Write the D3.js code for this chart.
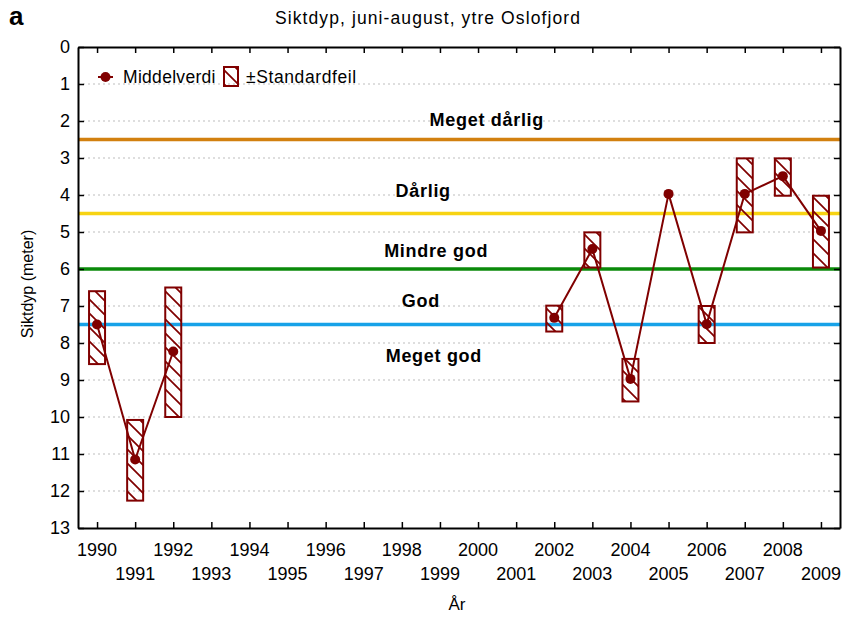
<!DOCTYPE html>
<html>
<head>
<meta charset="utf-8">
<script src="https://cdn.jsdelivr.net/npm/d3@7"></script>
<style>
  body { margin: 0; background: #fff; }
  text { font-family: "Liberation Sans", Arial, sans-serif; }
</style>
</head>
<body>
<div id="canvas"></div>
<script>
"use strict"

/* data */
let years = [1990, 1991, 1992, 2002, 2003, 2004, 2005, 2006, 2007, 2008, 2009];
let means = [7.5, 11.15, 8.23, 7.32, 5.46, 8.97, 3.97, 7.49, 3.97, 3.49, 4.97];
let lows = [6.6, 10.08, 6.5, 6.99, 5.01, 8.43, 3.97, 7.0, 3.01, 3.01, 4.02];
let highs = [8.57, 12.26, 10.0, 7.69, 5.96, 9.58, 3.97, 8.0, 5.01, 4.02, 5.96];

let classNames = ["Meget dårlig", "Dårlig", "Mindre god", "God", "Meget god"];
let classLabelDepths = [2.14, 4.05, 5.68, 7.03, 8.51];
let classLabelYears = [2000.23, 1998.56, 1998.9, 1998.5, 1998.84];
let limitDepths = [2.5, 4.5, 6, 7.5];
let limitColors = ["#d2800f", "#f7d313", "#0a8a0a", "#17a2e8"];

let yTicks = d3.range(0, 14);
let xTicks = d3.range(1990, 2010);

let W = 842, H = 619;
let plotLeft = 78, plotRight = 840, plotTop = 47, plotBottom = 528;
let red = "#800000";

let drawing = d3.select("#canvas")
    .append("svg")
    .attr("width", W)
    .attr("height", H);

let x = d3.scaleLinear().domain([1989.5, 2009.5]).range([plotLeft, plotRight]);
let y = d3.scaleLinear().domain([0, 13]).range([plotTop, plotBottom]);

/* hatch pattern for the error boxes */
let pat = drawing.append("defs").append("pattern")
    .attr("id", "hatch")
    .attr("patternUnits", "userSpaceOnUse")
    .attr("width", 14)
    .attr("height", 14);
pat.append("path")
    .attr("d", "M-3,-3 L17,17 M-3,11 L3,17 M11,-3 L17,3")
    .attr("stroke", red)
    .attr("stroke-width", 1.7);

/* dotted grid lines */
drawing.append("g")
    .selectAll("line")
    .data(yTicks.slice(1, -1))
    .join("line")
    .attr("x1", plotLeft).attr("x2", plotRight)
    .attr("y1", d => y(d)).attr("y2", d => y(d))
    .attr("stroke", "#bdbdbd")
    .attr("stroke-dasharray", "2,3");

/* class limit lines */
drawing.append("g")
    .selectAll("line")
    .data(limitDepths)
    .join("line")
    .attr("x1", plotLeft).attr("x2", plotRight)
    .attr("y1", d => y(d)).attr("y2", d => y(d))
    .attr("stroke", (d, i) => limitColors[i])
    .attr("stroke-width", 3.5);

drawing.append("g")
    .selectAll("text")
    .data(classNames)
    .join("text")
    .attr("x", (d, i) => x(classLabelYears[i]))
    .attr("y", (d, i) => y(classLabelDepths[i]))
    .attr("text-anchor", "middle")
    .attr("font-size", 18)
    .attr("font-weight", "bold")
    .attr("letter-spacing", 0.7)
    .text(d => d);

/* axes: ticks inside on all four sides */
let axisLeft = drawing.append("g")
    .attr("transform", `translate(${plotLeft},0)`)
    .call(d3.axisLeft(y).tickValues(yTicks).tickSizeInner(-6).tickSizeOuter(0).tickPadding(8));
let axisRight = drawing.append("g")
    .attr("transform", `translate(${plotRight},0)`)
    .call(d3.axisRight(y).tickValues(yTicks).tickSizeInner(-6).tickSizeOuter(0).tickFormat(""));
let axisBottom = drawing.append("g")
    .attr("transform", `translate(0,${plotBottom})`)
    .call(d3.axisBottom(x).tickValues(xTicks).tickSizeInner(-6).tickSizeOuter(0).tickFormat(""));
let axisTop = drawing.append("g")
    .attr("transform", `translate(0,${plotTop})`)
    .call(d3.axisTop(x).tickValues(xTicks).tickSizeInner(-6).tickSizeOuter(0).tickFormat(""));

[axisLeft, axisRight, axisBottom, axisTop].forEach(a => {
    a.select(".domain").attr("stroke", "#000").attr("stroke-width", 2);
    a.selectAll(".tick line").attr("stroke", "#000").attr("stroke-width", 1.5);
});
axisLeft.selectAll("text")
    .attr("font-size", 18)
    .attr("fill", "#000")
    .attr("font-family", "Liberation Sans, Arial, sans-serif");

/* year labels on two rows */
drawing.append("g")
    .selectAll("text")
    .data(xTicks)
    .join("text")
    .attr("x", d => x(d))
    .attr("y", d => d % 2 === 0 ? 556 : 580)
    .attr("text-anchor", "middle")
    .attr("font-size", 18)
    .text(d => d);

/* mean line, broken where years are missing */
let segments = [];
years.forEach((yr, i) => {
    if (i === 0 || yr - years[i - 1] > 1) segments.push([]);
    segments[segments.length - 1].push(i);
});
let meanLine = d3.line()
    .x(i => x(years[i]))
    .y(i => y(means[i]));

drawing.append("g")
    .selectAll("path")
    .data(segments)
    .join("path")
    .attr("d", meanLine)
    .attr("fill", "none")
    .attr("stroke", red)
    .attr("stroke-width", 2);

/* ± standard error boxes */
let boxW = 16;
drawing.append("g")
    .selectAll("rect")
    .data(years)
    .join("rect")
    .attr("x", d => x(d) - boxW / 2)
    .attr("y", (d, i) => y(lows[i]))
    .attr("width", boxW)
    .attr("height", (d, i) => y(highs[i]) - y(lows[i]))
    .attr("fill", "url(#hatch)")
    .attr("stroke", red)
    .attr("stroke-width", 2);

drawing.append("g")
    .selectAll("circle")
    .data(years)
    .join("circle")
    .attr("cx", d => x(d))
    .attr("cy", (d, i) => y(means[i]))
    .attr("r", 5)
    .attr("fill", red);

/* legend */
let legend = drawing.append("g");
legend.append("line")
    .attr("x1", 98).attr("x2", 113)
    .attr("y1", 77).attr("y2", 77)
    .attr("stroke", red).attr("stroke-width", 2);
legend.append("circle")
    .attr("cx", 105.5).attr("cy", 77).attr("r", 5)
    .attr("fill", red);
legend.append("text")
    .attr("x", 123).attr("y", 83)
    .attr("font-size", 17.5)
    .attr("letter-spacing", 0.3)
    .text("Middelverdi");
legend.append("rect")
    .attr("x", 224).attr("y", 67)
    .attr("width", 14).attr("height", 19)
    .attr("fill", "url(#hatch)")
    .attr("stroke", red).attr("stroke-width", 2);
legend.append("text")
    .attr("x", 246).attr("y", 83)
    .attr("font-size", 17.5)
    .attr("letter-spacing", 0.6)
    .text("±Standardfeil");

/* titles */
drawing.append("text")
    .attr("x", 428).attr("y", 24)
    .attr("text-anchor", "middle")
    .attr("font-size", 17.5)
    .attr("letter-spacing", 1.1)
    .text("Siktdyp, juni-august, ytre Oslofjord");

drawing.append("text")
    .attr("x", 9).attr("y", 25)
    .attr("font-size", 26)
    .attr("font-weight", "bold")
    .text("a");

drawing.append("text")
    .attr("transform", "translate(33,284) rotate(-90)")
    .attr("text-anchor", "middle")
    .attr("font-size", 16)
    .text("Siktdyp (meter)");

drawing.append("text")
    .attr("x", 457).attr("y", 610)
    .attr("text-anchor", "middle")
    .attr("font-size", 17)
    .text("År");
</script>
</body>
</html>
